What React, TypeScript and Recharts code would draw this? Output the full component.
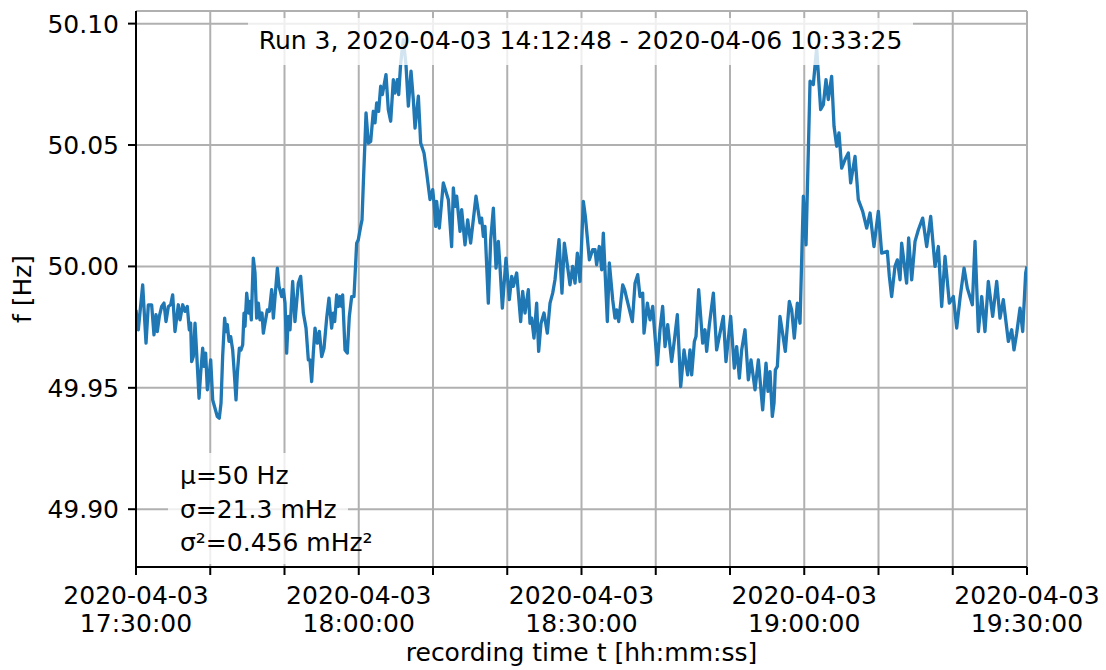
import React from 'react';
import { LineChart, Line, XAxis, YAxis, CartesianGrid, Label } from 'recharts';

const FONT = '"DejaVu Sans", "Liberation Sans", sans-serif';
const FS = 25;

// [minutes after 2020-04-03 17:30:00, frequency in Hz]
const samples1730: [number, number][] = [
  [0, 49.9821], [0.31, 49.9739], [0.9, 49.9924], [1.35, 49.9684], [1.66, 49.9842], [2.11, 49.9842],
  [2.42, 49.9718], [2.69, 49.9801], [2.87, 49.9732], [3.14, 49.9794], [3.46, 49.9835], [3.77, 49.9849],
  [4.04, 49.9773], [4.36, 49.9835], [4.67, 49.9842], [4.94, 49.9883], [5.25, 49.9732], [5.7, 49.9842],
  [5.93, 49.978], [6.29, 49.9842], [6.6, 49.9815], [6.91, 49.9835], [7.18, 49.9739], [7.36, 49.9766],
  [7.5, 49.9608], [7.72, 49.9629], [7.95, 49.9766], [8.17, 49.9643], [8.49, 49.9457], [8.71, 49.956],
  [8.98, 49.9663], [9.16, 49.9588], [9.38, 49.9643], [9.61, 49.9492], [9.88, 49.956], [10.06, 49.9615],
  [10.33, 49.945], [10.64, 49.9416], [10.95, 49.9382], [11.22, 49.9375], [11.45, 49.9437], [11.67, 49.9629],
  [11.94, 49.9787], [12.12, 49.9732], [12.3, 49.976], [12.53, 49.9691], [12.75, 49.9711], [13.02, 49.9656],
  [13.24, 49.956], [13.47, 49.945], [13.65, 49.956], [13.92, 49.9663], [14.14, 49.9656], [14.37, 49.9677],
  [14.55, 49.9808], [14.68, 49.9753], [14.91, 49.989], [15.17, 49.9808], [15.35, 49.9856], [15.53, 49.978],
  [15.8, 50.0034], [16.03, 49.9973], [16.25, 49.9787], [16.48, 49.9849], [16.7, 49.978], [16.97, 49.9808],
  [17.15, 49.9725], [17.37, 49.9766], [17.69, 49.9821], [17.96, 49.9815], [18.27, 49.9904], [18.5, 49.9787],
  [19.04, 49.9993], [19.26, 49.9918], [19.62, 49.9876], [19.84, 49.9904], [20.07, 49.9849], [20.29, 49.9643],
  [20.52, 49.9794], [20.74, 49.9739], [21.1, 49.9938], [21.41, 49.9773], [21.86, 49.9931], [22.18, 49.9959],
  [22.54, 49.9808], [22.9, 49.9746], [23.21, 49.9615],
];

const samples1753: [number, number][] = [
  [23.43, 49.9615], [23.66, 49.9526], [23.88, 49.9643], [24.11, 49.9746], [24.42, 49.9684], [24.69, 49.9732],
  [25.01, 49.9629], [25.32, 49.9663], [25.68, 49.9787], [25.99, 49.9869], [26.35, 49.9746], [26.58, 49.9808],
  [26.76, 49.9773], [27.03, 49.9883], [27.25, 49.9835], [27.48, 49.9876], [27.7, 49.9835], [27.83, 49.9883],
  [28.15, 49.9656], [28.46, 49.9643], [28.73, 49.9794], [29.05, 49.9876], [29.36, 49.9876], [29.72, 50.0096],
  [29.94, 50.011], [30.26, 50.0165], [30.44, 50.0192], [30.62, 50.0344], [30.84, 50.0515], [30.98, 50.0632],
  [31.29, 50.0508], [31.61, 50.0515], [31.96, 50.0639], [32.19, 50.0591], [32.41, 50.0673], [32.68, 50.0639],
  [32.95, 50.0742], [33.18, 50.0708], [33.67, 50.079], [33.98, 50.0646], [34.3, 50.0598], [34.66, 50.0769],
  [34.88, 50.0714], [35.2, 50.0769], [35.38, 50.0708], [35.65, 50.0838], [36.0, 50.0934], [36.36, 50.0831],
  [36.68, 50.066], [37.04, 50.0804], [37.35, 50.0687], [37.58, 50.057], [38.03, 50.0701], [38.34, 50.0508],
  [38.79, 50.0467], [39.15, 50.0385], [39.6, 50.0275], [39.96, 50.0316], [40.14, 50.0261], [40.36, 50.0165],
  [40.49, 50.0268], [40.85, 50.0158], [41.39, 50.0344], [42.07, 50.0275], [42.51, 50.0082], [42.74, 50.0323],
  [42.96, 50.0247], [43.19, 50.0289], [43.64, 50.0144], [43.86, 50.0234], [44.31, 50.0089], [44.67, 50.0192],
  [45.07, 50.0096], [45.79, 50.0289], [46.33, 50.0179],
];

const samples1816: [number, number][] = [
  [46.55, 50.0199], [46.78, 50.0124], [47.0, 50.0165], [47.45, 49.9849], [47.77, 50.011], [48.13, 50.024],
  [48.49, 49.9993], [48.8, 50.0103], [49.02, 50.0], [49.34, 49.9828], [49.83, 50.0034], [50.28, 49.9863],
  [50.6, 49.9959], [50.82, 49.9918], [51.27, 49.9973], [51.81, 49.9773], [52.08, 49.9897], [52.39, 49.9808],
  [52.84, 49.9904], [53.06, 49.9766], [53.29, 49.9787], [53.6, 49.9705], [53.96, 49.9849], [54.23, 49.965],
  [54.55, 49.9766], [54.95, 49.9808], [55.4, 49.9725], [55.76, 49.9849], [56.12, 49.989], [56.43, 49.9945],
  [56.97, 50.011], [57.37, 49.989], [57.69, 50.0096], [58.0, 50.0027], [58.45, 49.9924], [58.81, 50.0],
  [59.13, 49.9931], [59.44, 50.0055], [59.8, 49.9938], [60.25, 50.0268], [60.52, 50.0206], [61.06, 50.0027],
  [61.5, 50.0069], [61.82, 50.0069], [62.04, 50.0007], [62.4, 50.0082], [62.72, 49.9986], [62.94, 50.0137],
  [63.48, 49.9773], [63.75, 50.0014], [64.2, 49.9863], [64.51, 49.9787], [64.74, 49.9821], [65.01, 49.9773],
  [65.55, 49.9924], [65.81, 49.9904], [66.08, 49.9869], [66.85, 49.9773], [67.21, 49.9931], [67.57, 49.9966],
  [67.88, 49.9876], [68.24, 49.989], [68.42, 49.9725], [68.87, 49.9849],
];

const samples1839: [number, number][] = [
  [69.23, 49.978], [69.59, 49.9835], [69.76, 49.9766], [70.21, 49.9595], [70.57, 49.9739], [70.93, 49.9835],
  [71.25, 49.967], [71.61, 49.976], [72.14, 49.9608], [72.46, 49.9684], [72.91, 49.9801], [73.36, 49.9505],
  [73.81, 49.9656], [74.3, 49.9553], [74.61, 49.9656], [74.84, 49.9553], [75.2, 49.9691], [75.42, 49.9711],
  [75.78, 49.9904], [76.32, 49.9684], [76.63, 49.9739], [76.86, 49.965], [77.22, 49.976], [77.76, 49.989],
  [78.2, 49.9656], [78.65, 49.9725], [79.1, 49.9794], [79.46, 49.9608], [80.09, 49.9794], [80.58, 49.9581],
  [80.9, 49.967], [81.26, 49.954], [81.57, 49.9656], [82.02, 49.9739], [82.47, 49.9533], [82.83, 49.9615],
  [83.37, 49.9492], [83.82, 49.9615], [84.4, 49.9409], [84.85, 49.9602], [85.12, 49.9485], [85.39, 49.9567],
  [85.7, 49.9382], [85.93, 49.9437], [86.11, 49.9574], [86.38, 49.9588], [86.73, 49.9794], [87.18, 49.9705],
  [87.45, 49.965], [87.99, 49.9856], [88.31, 49.9821], [88.66, 49.9705], [89.07, 49.9849], [89.43, 49.9766],
  [89.88, 50.0289], [90.24, 50.0089], [90.78, 50.0763], [91.22, 50.0749], [91.67, 50.09],
];

const samples1902: [number, number][] = [
  [92.21, 50.0646], [92.57, 50.0666], [92.93, 50.0769], [93.24, 50.0687], [93.69, 50.0783], [94.01, 50.0577],
  [94.37, 50.0495], [94.68, 50.055], [95.04, 50.0405], [95.49, 50.044], [95.94, 50.0467], [96.25, 50.0344],
  [96.84, 50.0453], [97.28, 50.0275], [97.87, 50.0227], [98.41, 50.0158], [98.86, 50.022], [99.39, 50.0082],
  [99.98, 50.0227], [100.43, 50.0055], [101.19, 50.0062], [101.46, 49.9959], [101.77, 49.9876], [102.22, 50.0],
  [102.54, 50.0027], [102.9, 49.9945], [103.12, 50.0096], [103.79, 49.9931], [104.06, 50.0117], [104.47, 49.9945],
  [104.92, 50.0103], [105.37, 50.0151], [105.95, 50.0199], [106.49, 50.0082], [107.03, 50.0206], [107.61, 50.0],
  [108.06, 50.0082], [108.51, 49.9835], [108.96, 50.0041], [109.54, 49.9849], [110.08, 49.9876], [110.53, 49.9746],
  [110.98, 49.9869], [111.52, 49.9993], [111.96, 49.9911], [112.64, 49.9842], [113.0, 50.0103], [113.45, 49.9732],
  [113.9, 49.9876], [114.34, 49.9732], [114.79, 49.9938], [115.38, 49.9794], [115.92, 49.9938], [116.36, 49.9787],
  [116.81, 49.9863], [117.49, 49.9691], [117.94, 49.9739], [118.25, 49.9656], [118.61, 49.9725], [119.06, 49.9828],
  [119.42, 49.9732], [119.82, 49.9973], [120.0, 50.0],
];

const allSamples = [...samples1730, ...samples1753, ...samples1816, ...samples1839, ...samples1902];
const data = allSamples.map(([t, f]) => ({ t, f }));

const xTicks = [0, 10, 20, 30, 40, 50, 60, 70, 80, 90, 100, 110, 120];
const xTickLabels: Record<number, [string, string]> = {
  0: ['2020-04-03', '17:30:00'],
  30: ['2020-04-03', '18:00:00'],
  60: ['2020-04-03', '18:30:00'],
  90: ['2020-04-03', '19:00:00'],
  120: ['2020-04-03', '19:30:00'],
};
const yTicks = [49.9, 49.95, 50.0, 50.05, 50.1];
const xDomain: [number, number] = [0, 120];
const yDomain: [number, number] = [49.8762, 50.1052];

const titleText = 'Run 3, 2020-04-03 14:12:48 - 2020-04-06 10:33:25';
const statsLines = ['μ=50 Hz', 'σ=21.3 mHz', 'σ²=0.456 mHz²'];
const xLabelText = 'recording time t [hh:mm:ss]';
const yLabelText = 'f [Hz]';

const XTick = (props: any) => {
  const { x, y, payload } = props;
  const lbl = xTickLabels[payload.value];
  if (!lbl) return null;
  return (
    <text x={x} y={y} textAnchor="middle" fill="#000" fontSize={FS} fontFamily={FONT}>
      <tspan x={x} dy={27}>{lbl[0]}</tspan>
      <tspan x={x} dy={28}>{lbl[1]}</tspan>
    </text>
  );
};

const YLabel = (props: any) => {
  const vb = props.viewBox || { x: 0, y: 11, width: 136, height: 556 };
  const cx = vb.x + 31;
  const cy = vb.y + vb.height / 2;
  return (
    <text x={cx} y={cy} transform={`rotate(-90 ${cx} ${cy})`} textAnchor="middle" fill="#000" fontSize={FS} fontFamily={FONT}>
      {yLabelText}
    </text>
  );
};

const XLabel = (props: any) => {
  const vb = props.viewBox || { x: 136, y: 567, width: 891, height: 103 };
  const cx = vb.x + vb.width / 2;
  const cy = vb.y + 94;
  return (
    <text x={cx} y={cy} textAnchor="middle" fill="#000" fontSize={FS} fontFamily={FONT}>
      {xLabelText}
    </text>
  );
};

const spine = { stroke: '#000', strokeWidth: 2 };

export default function App() {
  return (
    <div style={{ position: 'absolute', left: 0, top: 0, width: 1106, height: 670, background: '#fff', fontFamily: FONT }}>
      <LineChart width={1106} height={670} data={data} margin={{ top: 11, right: 79, bottom: 0, left: 0 }}>
        <CartesianGrid stroke="#b0b0b0" strokeWidth={2} />
        <XAxis
          dataKey="t"
          type="number"
          domain={xDomain}
          ticks={xTicks}
          interval={0}
          height={103}
          tickSize={8}
          tick={<XTick />}
          tickLine={spine}
          axisLine={spine}
          allowDataOverflow
        >
          <Label content={<XLabel />} />
        </XAxis>
        <XAxis xAxisId="top" orientation="top" dataKey="t" type="number" domain={xDomain} height={0} tick={false} tickLine={false} axisLine={spine} />
        <YAxis
          type="number"
          domain={yDomain}
          ticks={yTicks}
          interval={0}
          width={136}
          tickSize={8}
          tickMargin={9}
          tickFormatter={(v: number) => v.toFixed(2)}
          tick={{ fill: '#000', fontSize: FS, fontFamily: FONT }}
          tickLine={spine}
          axisLine={spine}
          allowDataOverflow
        >
          <Label content={<YLabel />} />
        </YAxis>
        <YAxis yAxisId="right" orientation="right" type="number" domain={yDomain} width={0} tick={false} tickLine={false} axisLine={spine} />
        <Line
          dataKey="f"
          type="linear"
          stroke="#1f77b4"
          strokeWidth={3.3}
          strokeLinejoin="round"
          dot={false}
          activeDot={false}
          isAnimationActive={false}
        />
      </LineChart>
      <div
        style={{
          position: 'absolute', left: 248, top: 18, width: 665, height: 47,
          background: 'rgba(255,255,255,0.8)', borderRadius: 5,
        }}
      >
        <div style={{ position: 'absolute', left: 0, right: 0, top: 8, lineHeight: '29px', fontSize: FS, textAlign: 'center', color: '#000', whiteSpace: 'nowrap' }}>
          {titleText}
        </div>
      </div>
      <div
        style={{
          position: 'absolute', left: 168, top: 453, width: 180, height: 111,
          background: 'rgba(255,255,255,0.8)', borderRadius: 5,
        }}
      >
        {statsLines.map((s, i) => (
          <div key={i} style={{ position: 'absolute', left: 12, top: 8 + i * 33.5, lineHeight: '29px', fontSize: FS, color: '#000', whiteSpace: 'nowrap' }}>
            {s}
          </div>
        ))}
      </div>
    </div>
  );
}
